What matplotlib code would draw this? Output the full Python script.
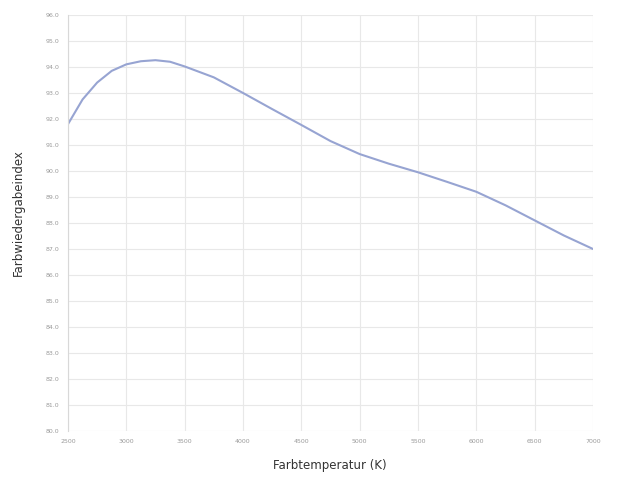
import numpy as np
import matplotlib.pyplot as plt

# Farbtemperatur (K) und Farbwiedergabeindex
temperatur = [2500, 2625, 2750, 2875, 3000, 3125, 3250, 3375, 3500, 3750, 4000,
              4250, 4500, 4750, 5000, 5250, 5500, 5750, 6000, 6250, 6500, 6750, 7000]
cri = [91.8, 92.75, 93.4, 93.85, 94.1, 94.22, 94.26, 94.2, 94.02, 93.6, 93.0,
       92.38, 91.77, 91.15, 90.65, 90.28, 89.95, 89.58, 89.2, 88.68, 88.1, 87.52, 87.0]

x_ticks = [2500, 3000, 3500, 4000, 4500, 5000, 5500, 6000, 6500, 7000]
y_ticks = np.arange(80, 97, 1)

fig = plt.figure(figsize=(6.18, 4.82), dpi=100)
ax = fig.add_axes([0.110, 0.1058, 0.8495, 0.8632])

ax.plot(temperatur, cri, color='#97a4d2', lw=1.5, solid_capstyle='round', solid_joinstyle='round')

ax.set_xlim(2500, 7000)
ax.set_ylim(80, 96)
ax.set_xticks(x_ticks)
ax.set_yticks(y_ticks)
ax.set_yticklabels([f"{v:.1f}" for v in y_ticks])
ax.tick_params(axis='both', labelsize=4.5, colors='#9a9a9a', length=0, pad=6)

ax.grid(True, color='#e8e8e8', lw=0.8)
for s in ['top', 'right', 'bottom']:
    ax.spines[s].set_visible(False)
ax.spines['left'].set_color('#d8d8d8')
ax.spines['left'].set_linewidth(0.8)
ax.set_axisbelow(True)

fig.text(0.534, 0.035, "Farbtemperatur (K)", ha='center', va='center', fontsize=8.5, color='#333333')
fig.text(0.03, 0.56, "Farbwiedergabeindex", ha='center', va='center', rotation=90, fontsize=8.5, color='#333333')

fig.savefig("out.png", dpi=100)
